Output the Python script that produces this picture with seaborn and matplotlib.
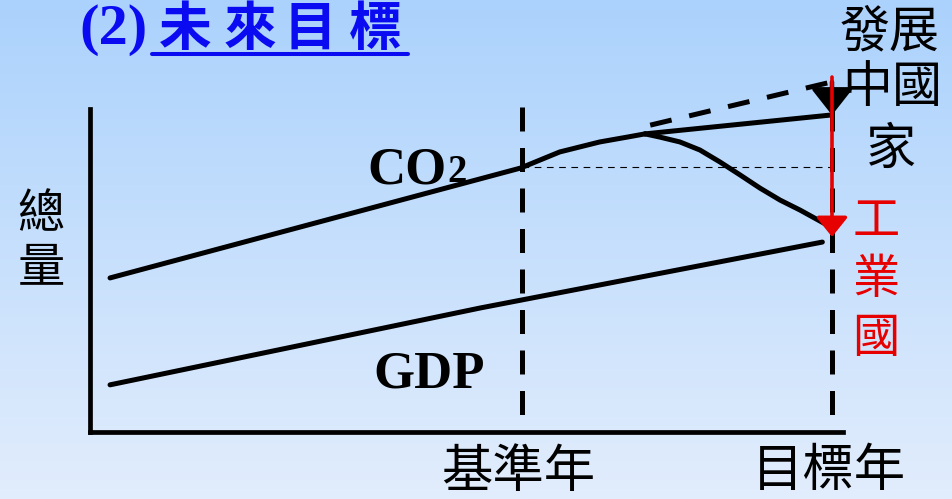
import numpy as np
import pandas as pd
import matplotlib
matplotlib.use("Agg")
import matplotlib.pyplot as plt
from matplotlib.lines import Line2D
import seaborn as sns

# ---- data (time index on x, total amount on y) ----
co2_x = [0.27, 5.80, 6.33, 6.87, 7.24, 7.48]
co2_y = [4.77, 8.17, 8.67, 8.98, 9.13, 9.23]
developing_x = [7.48, 9.97]
developing_y = [9.23, 9.81]
bau_x = [7.55, 10.0]
bau_y = [9.50, 10.84]
industrial_x = [7.48, 7.68, 7.95, 8.22, 8.49, 8.76, 9.03, 9.30, 9.57, 9.91]
industrial_y = [9.23, 9.13, 8.98, 8.73, 8.36, 7.96, 7.55, 7.18, 6.87, 6.44]
gdp_x = [0.27, 5.26, 9.87]
gdp_y = [1.46, 3.84, 5.88]
base_year = 5.82
target_year = 10.0
base_level = 8.2
dev_arrow = [10.84, 9.81]     # black arrow: from business-as-usual down to developing path
ind_arrow = [10.99, 6.04]     # red arrow: down to industrialised path
year_labels = ["基準年", "目標年"]

W, H = 953, 499
sns.set_theme(style="white")
plt.rcParams["font.family"] = ["Noto Sans CJK TC", "DejaVu Sans"]

fig = plt.figure(figsize=(W / 100, H / 100), dpi=100)

# background gradient
bg = fig.add_axes([0, 0, 1, 1], zorder=0)
top = np.array([171, 210, 252]) / 255
bot = np.array([226, 237, 253]) / 255
t = np.linspace(0, 1, 256)[:, None]
grad = (top[None, :] * (1 - t) + bot[None, :] * t)[:, None, :]
bg.imshow(grad, aspect="auto", extent=[0, 1, 0, 1])
bg.set_axis_off()

ax = fig.add_axes([0, 0, 1, 1], zorder=1)
ax.set_facecolor("none")
# data limits so the frame sits at the origin
ax.set_xlim(-90 / 74.2, (W - 90) / 74.2)
ax.set_ylim(-(H - 432) / 32.3, 432 / 32.3)

lw = 3.6
def line(xs, ys, **kw):
    df = pd.DataFrame({"x": xs, "y": ys})
    sns.lineplot(data=df, x="x", y="y", ax=ax, estimator=None, sort=False,
                 legend=False, **kw)

# reference years (dashes start from the top)
ax.vlines([base_year], 10.06, 0, colors="black", lw=lw, linestyles=(0, (4.8, 3.3)), zorder=2)
ax.vlines([target_year], 10.06, 0, colors="black", lw=lw, linestyles=(0, (4.8, 3.3)), zorder=2)
ax.hlines([base_level], base_year, target_year, colors="black", lw=0.8,
          linestyles=(0, (6, 5)), zorder=2)

line(co2_x, co2_y, color="black", lw=lw, zorder=3)
line(developing_x, developing_y, color="black", lw=lw, zorder=3)
line(industrial_x, industrial_y, color="black", lw=lw, zorder=3)
line(bau_x, bau_y, color="black", lw=lw, linestyle=(0, (4.4, 3.6)), zorder=3)
line(gdp_x, gdp_y, color="black", lw=lw, zorder=3)
for l in ax.get_lines():
    l.set_solid_joinstyle("round")

ax.annotate("", xy=(target_year, dev_arrow[1]), xytext=(target_year, dev_arrow[0]),
            arrowprops=dict(arrowstyle="-|>,head_length=0.8,head_width=0.63",
                            mutation_scale=20, color="black", lw=3.2,
                            shrinkA=0, shrinkB=0), zorder=4)
ax.annotate("", xy=(target_year, ind_arrow[1]), xytext=(target_year, ind_arrow[0]),
            arrowprops=dict(arrowstyle="-|>,head_length=0.6,head_width=0.48",
                            mutation_scale=20, color="#e60000", lw=2.6,
                            shrinkA=0, shrinkB=0), zorder=5)

# axis frame
for s in ["top", "right"]:
    ax.spines[s].set_visible(False)
ax.spines["left"].set_position(("data", 0))
ax.spines["bottom"].set_position(("data", 0))
ax.spines["left"].set_bounds(0, 10.0)
ax.spines["bottom"].set_bounds(0, 10.15)
for s in ["left", "bottom"]:
    ax.spines[s].set_linewidth(3.4)
    ax.spines[s].set_color("black")
    ax.spines[s].set_zorder(3)
ax.set_xticks([])
ax.set_yticks([])
ax.set_xlabel("")
ax.set_ylabel("")

def ptext(px, py, s, **kw):
    fig.text(px / W, 1 - py / H, s, **kw)

serif = "Liberation Serif"
cjk = ["Noto Sans CJK TC", "DejaVu Sans"]

# title
blue = "#0b0bf2"
ptext(79, 44, "(2)", family=serif, weight="bold", fontsize=42, color=blue,
      ha="left", va="baseline")
for cx, ch in zip([185, 250, 310, 375], "未來目標"):
    ptext(cx, 29, ch, family=cjk, weight="bold", fontsize=38, color=blue,
          ha="center", va="center")
fig.add_artist(Line2D([152 / W, 408 / W], [1 - 54.5 / H, 1 - 54.5 / H],
                      color=blue, lw=2.9, transform=fig.transFigure))

# series labels
ptext(367, 183, "CO", family=serif, weight="bold", fontsize=38, color="black",
      ha="left", va="baseline")
ptext(447, 182, "2", family=serif, weight="bold", fontsize=28, color="black",
      ha="left", va="baseline")
ptext(373, 387, "GDP", family=serif, weight="bold", fontsize=38, color="black",
      ha="left", va="baseline")

# y label
ptext(41, 215, "總", family=cjk, fontsize=34, color="black", ha="center", va="center")
ptext(41, 268, "量", family=cjk, fontsize=34, color="black", ha="center", va="center")

# year labels
ptext(518, 472, year_labels[0], family=cjk, fontsize=37, color="black",
      ha="center", va="center")
ptext(829, 471, year_labels[1], family=cjk, fontsize=37, color="black",
      ha="center", va="center")

# group labels
ptext(890, 32, "發展", family=cjk, fontsize=36, color="black", ha="center", va="center")
ptext(892, 88, "中國", family=cjk, fontsize=36, color="black", ha="center", va="center")
ptext(891, 150, "家", family=cjk, fontsize=36, color="black", ha="center", va="center")
for cy, ch in zip([222, 280, 339], "工業國"):
    ptext(876, cy, ch, family=cjk, fontsize=34, color="#e60000", ha="center", va="center")

fig.savefig("out.png", dpi=100)
